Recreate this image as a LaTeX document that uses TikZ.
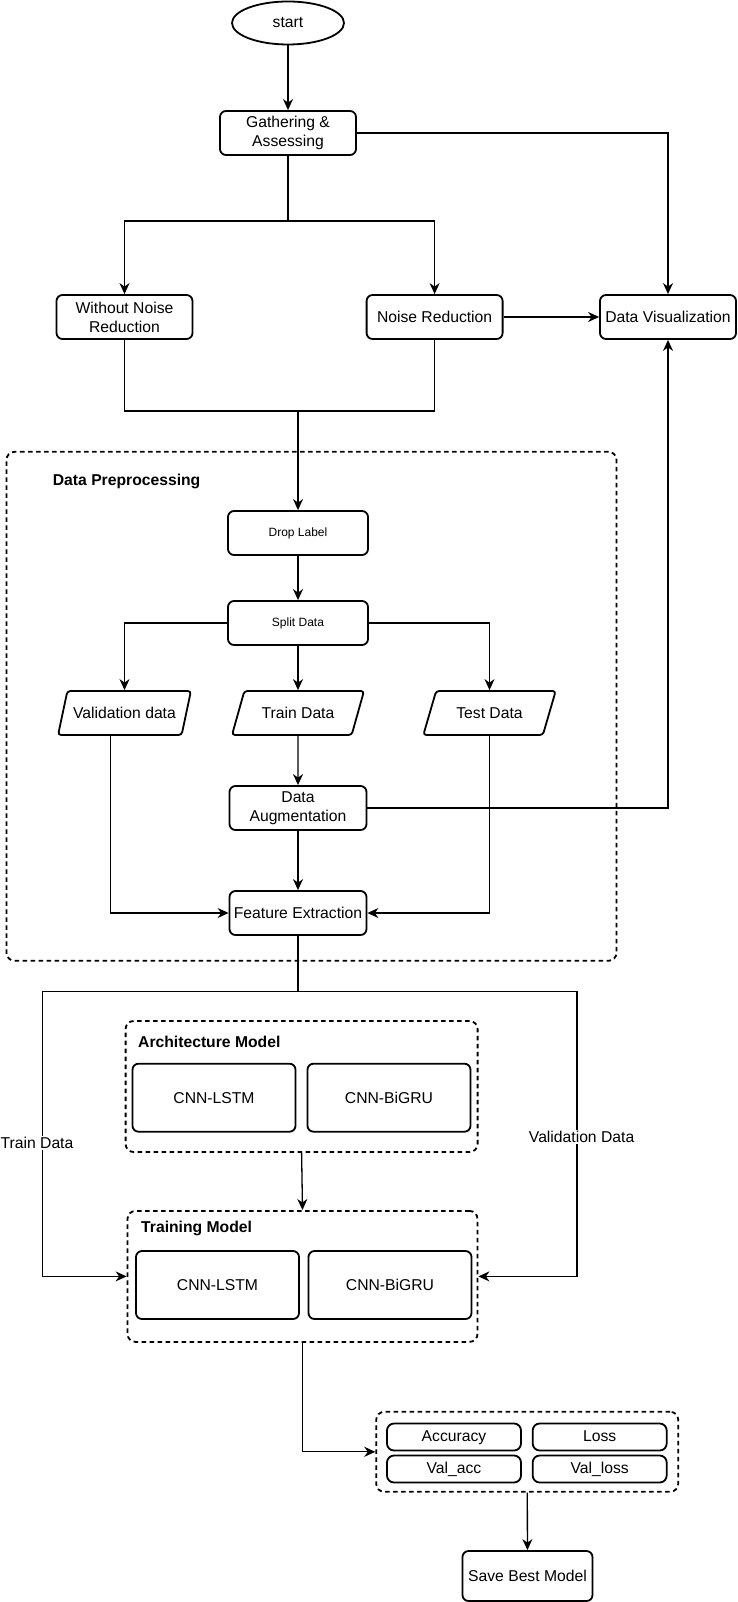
\documentclass[tikz,border=0pt]{standalone}
\usepackage{fontspec}
\setmainfont{Liberation Sans}
\usetikzlibrary{shapes.geometric,arrows.meta}

\tikzset{
  every node/.style={font=\fontsize{15.7}{19}\selectfont},
  box/.style={draw, rounded corners=6pt, line width=1.8pt, minimum width=136pt, minimum height=44pt, align=center, inner sep=1pt},
  smallbox/.style={box, minimum width=140pt, font=\fontsize{12}{14}\selectfont},
  io/.style={draw, trapezium, trapezium left angle=54, trapezium right angle=126, trapezium stretches=true, line width=1.8pt, rounded corners=3pt, minimum width=133pt, minimum height=44pt, inner sep=0pt},
  model/.style={box, minimum width=163pt, minimum height=68pt},
  metric/.style={box, minimum width=134pt, minimum height=27pt, rounded corners=7pt, text height=11pt, text depth=3pt},
  grp/.style={draw, dash pattern=on 4.5pt off 3.5pt, rounded corners=8pt, line width=1.8pt},
  grptitle/.style={anchor=west, inner sep=0pt, font=\bfseries\fontsize{15.7}{19}\selectfont},
  arr/.style={line width=1.3pt, -{Stealth[length=11pt,width=10pt,inset=3.5pt]}},
  ln/.style={line width=1.3pt},
  lbl/.style={fill=white, inner sep=1pt}
}

\begin{document}
\begin{tikzpicture}[x=1pt,y=-1pt]
\useasboundingbox (0,0) rectangle (738,1602);

% top part
\node[draw, ellipse, line width=1.8pt, minimum width=112pt, minimum height=43pt] (start) at (288,23) {start};
\node[box] (gather) at (288,133) {Gathering \&\\Assessing};
\node[box] (wnr) at (124.5,317) {Without Noise\\Reduction};
\node[box] (nr) at (434.6,317) {Noise Reduction};
\node[box] (dv) at (668,317) {Data Visualization};

% data preprocessing
\node[grp, minimum width=610pt, minimum height=509pt] (prep) at (311.5,706.3) {};
\node[grptitle] (prepttl) at (52.7,481.7) {Data Preprocessing};
\node[smallbox] (drop) at (298,533) {Drop Label};
\node[smallbox] (split) at (298,623) {Split Data};
\node[io] (valid) at (124.5,713) {Validation data};
\node[io] (traind) at (298,713) {Train Data};
\node[io] (test) at (489.5,713) {Test Data};
\node[box, minimum width=137pt] (aug) at (298,808) {Data\\Augmentation};
\node[box, minimum width=137pt] (feat) at (298,913) {Feature Extraction};

% models
\node[grp, minimum width=352pt, minimum height=131pt] (archgrp) at (301.6,1086.5) {};
\node[grptitle] (archttl) at (138,1041.7) {Architecture Model};
\node[model] (alstm) at (214,1097.7) {CNN-LSTM};
\node[model] (abigru) at (389,1097.7) {CNN-BiGRU};

\node[grp, minimum width=350pt, minimum height=131pt] (traingrp) at (302.5,1276.4) {};
\node[grptitle] (trainttl) at (141,1228) {Training Model};
\node[model] (tlstm) at (217.5,1285) {CNN-LSTM};
\node[model] (tbigru) at (390,1285) {CNN-BiGRU};

% metrics
\node[grp, minimum width=302pt, minimum height=80pt] (metrics) at (527.2,1451.8) {};
\node[metric] (acc) at (454,1437) {Accuracy};
\node[metric] (loss) at (599.7,1437) {Loss};
\node[metric] (vacc) at (454,1469) {Val\_acc};
\node[metric] (vloss) at (599.7,1469) {Val\_loss};
\node[box, minimum width=130pt, minimum height=50pt] (save) at (527.5,1576) {Save Best Model};

% connectors
\coordinate (fork) at (288,221);
\coordinate (merge) at (298,411);
\coordinate (vout) at (110.6,735);
\coordinate (lcol) at (42.4,991.7);
\coordinate (rcol) at (577,991.7);

\draw[arr] (start) -- (gather);
\draw[ln, line width=2pt] (gather.south) -- (fork);
\draw[arr] (fork) -| (wnr.north);
\draw[arr] (fork) -| (nr.north);
\draw[arr] (gather.east) -| (dv.north);
\draw[arr] (nr.east) -- (dv.west);
\draw[ln] (wnr.south) |- (merge) -| (nr.south);
\draw[arr] (merge) -- (drop.north);
\draw[arr] (drop) -- (split);
\draw[arr] (split.west) -| (valid.north);
\draw[arr] (split) -- (traind);
\draw[arr] (split.east) -| (test.north);
\draw[arr] (traind) -- (aug);
\draw[arr] (aug.east) -| (dv.south);
\draw[arr] (aug) -- (feat);
\draw[arr] (vout) |- (feat.west);
\draw[arr] (test.south) |- (feat.east);
\draw[arr] (feat.south) |- (lcol) |- (traingrp.west);
\draw[arr] (feat.south) |- (rcol) |- (traingrp.east);
\draw[arr] (archgrp.south) -- (traingrp.north);
\draw[arr] (traingrp.south) |- (metrics.west);
\draw[arr] (metrics) -- (save);

\node[lbl] (trainlbl) at (37,1143) {Train Data};
\node[lbl] (vallbl) at (581.6,1137) {Validation Data};

\end{tikzpicture}
\end{document}
